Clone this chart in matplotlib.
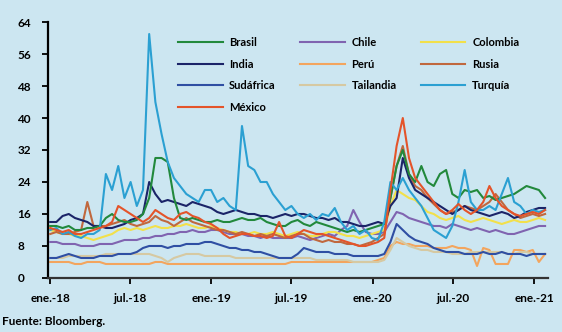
import matplotlib
matplotlib.use("Agg")
from matplotlib import pyplot as plt
import pandas as pd

# fechas cada 14 dias, ene-2018 a ene-2021
fechas = pd.date_range("2018-01-01", periods=81, freq="14D")

brasil = [13, 13, 12.5, 13, 12, 12, 12.5, 12.5, 13, 15, 16, 14.5, 14, 14, 14.5, 16, 20, 30, 30, 29,
          20, 15, 14.5, 15, 14.5, 14, 14, 14.5, 14, 14, 14.5, 15, 14.5, 14.5, 15, 14, 13.5, 13, 13, 14,
          14.5, 13.5, 13, 14, 13.5, 13, 12.5, 12, 11.5, 12, 11.5, 12, 12.5, 13, 13.5, 20, 28, 32, 26, 24,
          28, 24, 23, 26, 27, 21, 20, 22, 21.5, 22, 20, 20.5, 19.5, 20, 20.5, 21, 22, 23, 22.5, 22, 20]
india = [14, 14, 15.5, 16, 15, 14.5, 14, 13, 13, 12.5, 12.5, 13, 13.5, 14.5, 15, 16, 24, 21, 19, 19.5,
         19, 18.5, 18, 19, 18.5, 18, 17.5, 16.5, 16, 16.5, 17, 16.5, 16, 16, 15.5, 15.5, 15, 15.5, 16, 15.5,
         16, 16, 15.5, 15, 15, 14.5, 15, 14, 14, 13.5, 13, 13, 13.5, 14, 13.5, 18, 20, 30, 25, 22,
         21, 20, 19, 18, 17, 16, 17, 18, 17, 16.5, 16, 15.5, 16, 16.5, 16, 15, 15.5, 16.5, 17, 17.5, 17.5]
sudafrica = [5, 5, 5.5, 6, 5.5, 5, 5, 5, 5.5, 5.5, 5.5, 6, 6, 6, 6.5, 7.5, 8, 8, 8, 7.5,
             8, 8, 8.5, 8.5, 8.5, 9, 9, 8.5, 8, 7.5, 7.5, 7, 7, 6.5, 6.5, 6, 5.5, 5, 5, 5,
             6, 7.5, 7, 6.5, 6.5, 6.5, 6, 6, 6, 5.5, 5.5, 5.5, 5.5, 5.5, 6, 9, 13.5, 12, 10.5, 9.5,
             9, 8.5, 7.5, 7, 6.5, 6.5, 6.5, 6, 6, 6, 6.5, 6, 6, 6.5, 6, 6, 6, 5.5, 6, 6, 6]
mexico = [12.5, 12, 11.5, 12, 11, 11, 11.5, 12, 12.5, 13, 14, 18, 17, 16, 15, 14, 15, 17, 16, 15,
          14.5, 16, 16.5, 15.5, 15, 14, 13.5, 12.5, 11, 10, 10.5, 11, 11, 10.5, 10.5, 10, 10.5, 14, 10.5, 10,
          11, 12, 11.5, 11, 11, 10.5, 10, 9.5, 9, 8.5, 8, 8, 8.5, 9, 10, 22, 33, 40, 30, 25,
          23, 21, 19, 17, 16, 17, 18.5, 17, 16, 17, 19, 23, 20, 18, 17, 16, 15.5, 16, 16.5, 16, 17]
chile = [9, 9, 8.5, 8.5, 8.5, 8, 8, 8, 8.5, 8.5, 8.5, 9, 9.5, 9.5, 9.5, 10, 10, 10.5, 10.5, 11,
         11, 11.5, 11.5, 12, 11.5, 11.5, 12, 12, 11.5, 11, 11, 11, 10.5, 10.5, 10, 10.5, 10, 10, 10, 10,
         10.5, 10, 9.5, 10, 10.5, 11, 10.5, 12, 13, 17, 14, 11.5, 11, 11, 11.5, 14, 16.5, 16, 15, 14.5,
         14, 13.5, 13, 13, 12.5, 13.5, 13, 12.5, 12, 12.5, 12, 11.5, 12, 11.5, 11, 11, 11.5, 12, 12.5, 13, 13]
peru = [4, 4, 4, 4, 3.5, 3.5, 4, 4, 4, 3.5, 3.5, 3.5, 3.5, 3.5, 3.5, 3.5, 3.5, 4, 4, 3.5,
        3.5, 3.5, 3.5, 3.5, 3.5, 3.5, 3.5, 3.5, 3.5, 3.5, 3.5, 3.5, 3.5, 3.5, 3.5, 3.5, 3.5, 3.5, 3.5, 4,
        4, 4, 4, 4, 4, 4, 4, 4, 4, 4, 4, 4, 4, 4.5, 5, 8, 9, 8.5, 8.5, 8,
        8, 8, 7.5, 7.5, 7.5, 8, 7.5, 7.5, 7, 3, 7.5, 7, 3.5, 3.5, 3.5, 7, 7, 6.5, 7, 4, 6]
tailandia = [5, 5, 5, 5.5, 5.5, 5.5, 5.5, 5.5, 5.5, 6, 6, 6, 6, 6, 6, 6, 6, 5.5, 5, 4,
             5, 5.5, 6, 6, 6, 5.5, 5.5, 5.5, 5.5, 5.5, 5, 5, 5, 5, 5, 5, 5, 5, 5, 5,
             5, 5, 5, 4.5, 4.5, 4.5, 4.5, 4.5, 4.5, 4, 4, 4, 4, 4, 4.5, 7, 10, 9, 8, 7.5,
             7, 7, 6.5, 6.5, 6.5, 6, 6, 6, 6.5, 6.5, 6.5, 6.5, 6.5, 6.5, 6, 6, 6.5, 6.5, 6, 6, 6]
colombia = [12, 11.5, 11, 11, 10.5, 10.5, 10, 9.5, 10, 10.5, 11, 12, 12.5, 12, 12.5, 12, 12.5, 13, 12.5, 12.5,
            13, 13, 13.5, 13, 12.5, 12.5, 13, 12.5, 12, 11.5, 11.5, 11, 11, 11.5, 11, 11, 11.5, 11, 10.5, 11,
            11.5, 11, 10.5, 10.5, 11, 11.5, 11.5, 11, 10.5, 10.5, 10, 10.5, 11, 11.5, 12, 18, 22, 21, 20, 19.5,
            18, 16.5, 16, 15, 14.5, 15, 15.5, 14.5, 14, 14.5, 15, 14.5, 14, 13.5, 14, 14.5, 14, 14, 14.5, 15, 14.5]
rusia = [11, 11.5, 11, 11, 11.5, 12, 19, 13, 13, 13, 13.5, 14, 14.5, 13.5, 13, 13.5, 14, 15.5, 14.5, 14,
         13, 14, 15, 14, 13.5, 13, 12.5, 12, 12, 11.5, 11, 11.5, 11, 10.5, 11, 10.5, 11, 10.5, 10, 10.5,
         11, 11, 10, 9.5, 9, 9.5, 9, 9, 8.5, 8.5, 8, 8.5, 9, 10, 11, 20, 28, 33, 26, 23,
         22, 20, 18.5, 17, 16, 16.5, 17, 18, 17.5, 17, 18, 19, 21, 19, 17, 16, 15, 15.5, 16, 15.5, 16]
turquia = [12, 12.5, 11, 11.5, 10.5, 10, 11, 11, 12, 26, 22, 28, 20, 24, 18, 22, 61, 44, 36, 29,
           25, 23, 21, 20, 19, 22, 22, 19, 20, 18, 17, 38, 28, 27, 24, 24, 21, 19, 17, 18,
           16, 15, 16, 14.5, 16, 15.5, 17.5, 14, 12, 13, 11, 12, 10, 9.5, 14, 24, 22, 25, 22, 20,
           18, 15, 12, 11, 10, 13, 19, 27, 19, 17, 17, 18, 17, 21, 25, 19, 18, 16, 17, 16.5, 17]

series = [
    ("Brasil", brasil, "#22893c"),
    ("India", india, "#1b2468"),
    ("Sudáfrica", sudafrica, "#2f4fa3"),
    ("México", mexico, "#e4542a"),
    ("Chile", chile, "#8064b0"),
    ("Perú", peru, "#f3a55e"),
    ("Tailandia", tailandia, "#d6c9a2"),
    ("Colombia", colombia, "#f2e04a"),
    ("Rusia", rusia, "#c0683e"),
    ("Turquía", turquia, "#2ba0d2"),
]
# orden de dibujo (los de abajo primero)
draw_order = ["Perú", "Tailandia", "Sudáfrica", "Chile", "Colombia", "Rusia",
              "India", "Brasil", "Turquía", "México"]

tick_dates = ["2018-01-01", "2018-07-01", "2019-01-01", "2019-07-01",
              "2020-01-01", "2020-07-01", "2021-01-01"]
tick_labels = ["ene.-18", "jul.-18", "ene.-19", "jul.-19", "ene.-20", "jul.-20", "ene.-21"]
y_ticks = [0, 8, 16, 24, 32, 40, 48, 56, 64]

bg = "#cce6f1"
plt.rcParams["font.family"] = ["Lato", "DejaVu Sans"]
plt.rcParams["font.weight"] = "bold"

fig = plt.figure(figsize=(5.62, 3.32), dpi=100, facecolor=bg)
ax = fig.add_axes([0.0854, 0.1627, 0.890, 0.771])
ax.set_facecolor(bg)

lines = {}
for name, vals, col in series:
    (ln,) = ax.plot(fechas, vals, color=col, lw=1.5, label=name,
                    zorder=2 + draw_order.index(name))
    lines[name] = ln

ax.set_ylim(0, 64)
ax.set_yticks(y_ticks)
ax.set_xlim(pd.Timestamp("2017-12-27"), pd.Timestamp("2021-02-01"))
ax.set_xticks([pd.Timestamp(d) for d in tick_dates])
ax.set_xticklabels(tick_labels)
ax.tick_params(axis="both", labelsize=8.5, length=4, width=1.3, colors="black")
ax.tick_params(axis="x", pad=7)
ax.tick_params(axis="y", pad=18)
for lbl in ax.get_yticklabels():
    lbl.set_horizontalalignment("left")

for s in ["top", "right"]:
    ax.spines[s].set_visible(False)
ax.spines["left"].set_linewidth(1.6)
ax.spines["bottom"].set_linewidth(1.6)
ax.spines["bottom"].set_color("#333333")

handles = [lines[n] for n, _, _ in series]
fig.legend(handles=handles, loc="upper left", bbox_to_anchor=(0.317, 0.888),
           ncol=3, frameon=False, fontsize=8, handlelength=4.0,
           labelspacing=0.95, columnspacing=2.2, handletextpad=0.6,
           borderpad=0, borderaxespad=0)

fig.text(0.004, 0.02, "Fuente: Bloomberg.", fontsize=8.5, fontweight="bold")

fig.savefig("out.png", dpi=100, facecolor=bg)
